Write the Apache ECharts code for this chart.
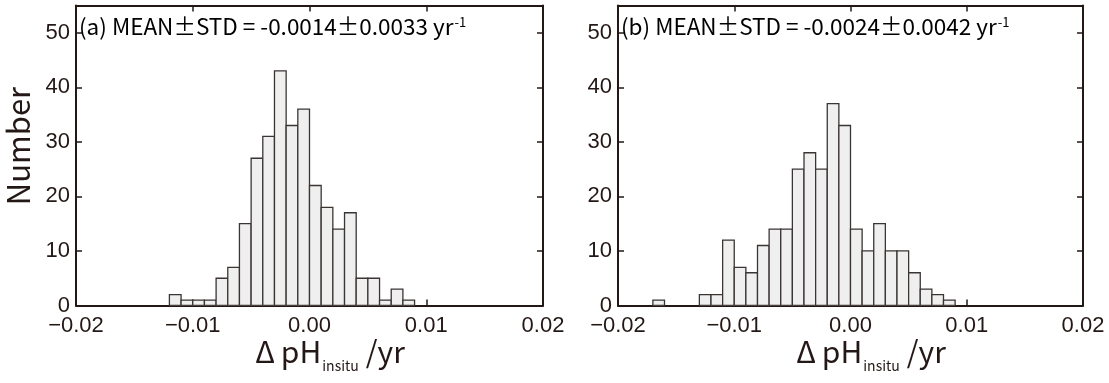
<!DOCTYPE html>
<html>
<head>
<meta charset="utf-8">
<script src="https://cdn.jsdelivr.net/npm/echarts@6/dist/echarts.min.js"></script>
<style>
html,body{margin:0;padding:0;background:#fff;}
#chart{width:1109px;height:383px;}
</style>
</head>
<body>
<div id="chart"></div>
<script>
// ---- data ----
const BIN_WIDTH = 0.001;
const binLeftA = [-0.012,-0.011,-0.010,-0.009,-0.008,-0.007,-0.006,-0.005,-0.004,-0.003,-0.002,-0.001,0.000,0.001,0.002,0.003,0.004,0.005,0.006,0.007,0.008];
const countsA  = [2,1,1,1,5,7,15,27,31,43,33,36,22,18,14,17,5,5,1,3,1];
const binLeftB = [-0.017,-0.013,-0.012,-0.011,-0.010,-0.009,-0.008,-0.007,-0.006,-0.005,-0.004,-0.003,-0.002,-0.001,0.000,0.001,0.002,0.003,0.004,0.005,0.006,0.007,0.008];
const countsB  = [1,2,2,12,7,6,11,14,14,25,28,25,37,33,14,10,15,10,10,6,3,2,1];
const xTicks = [-0.02,-0.01,0.00,0.01,0.02];
const yTicks = [0,10,20,30,40,50];
const titleA = '(a) MEAN\u00B1STD = -0.0014\u00B10.0033 yr';
const titleB = '(b) MEAN\u00B1STD = -0.0024\u00B10.0042 yr';
const titleSup = '-1';
const xNameParts = ['\u0394\u2009pH', 'insitu', '\u2009/yr'];
const yName = 'Number';

// ---- styling ----
const INK = '#231815';
const TICK_FONT = 'Liberation Sans';
const TXT_FONT = 'Noto Sans CJK JP';

function histData(lefts, counts){
  return lefts.map((l,i)=>[l, l+BIN_WIDTH, counts[i]]);
}
function renderHist(params, api){
  const p0 = api.coord([api.value(0), api.value(2)]);
  const p1 = api.coord([api.value(1), 0]);
  return {
    type:'rect',
    shape:{x:p0[0], y:p0[1], width:p1[0]-p0[0], height:p1[1]-p0[1]},
    style:{fill:'#efefef', stroke:'#3a3533', lineWidth:1.3}
  };
}
function fmtX(v){
  const s = Math.abs(v).toFixed(2);
  return (v < -1e-9 ? '\u2212' : '') + s;
}
const grids = [
  {left:76, top:5.5, width:467, height:300},
  {left:618, top:5.5, width:465, height:300}
];
const xAxes = [], yAxes = [];
grids.forEach((g,gi)=>{
  ['bottom','top'].forEach(pos=>{
    xAxes.push({
      type:'value', gridIndex:gi, position:pos,
      min:xTicks[0], max:xTicks[xTicks.length-1], interval:0.01,
      axisLine:{show:true, onZero:false, lineStyle:{color:INK, width:2}},
      axisTick:{show:true, inside:true, length:6, lineStyle:{color:INK, width:1.5}},
      axisLabel:{show:pos==='bottom', margin:9, color:INK, fontFamily:TICK_FONT, fontSize:22, formatter:fmtX, showMinLabel:true, showMaxLabel:true},
      splitLine:{show:false}
    });
  });
  ['left','right'].forEach(pos=>{
    yAxes.push({
      type:'value', gridIndex:gi, position:pos,
      min:0, max:55, interval:10,
      axisLine:{show:true, onZero:false, lineStyle:{color:INK, width:2}},
      axisTick:{show:true, inside:true, length:6, lineStyle:{color:INK, width:1.5}},
      axisLabel:{show:pos==='left', margin:6, color:INK, fontFamily:TICK_FONT, fontSize:22,
        formatter:function(v){ return yTicks.indexOf(v) >= 0 ? String(v) : ''; }},
      splitLine:{show:false}
    });
  });
});

function titleText(t, x){
  return {
    type:'text', left:x, top:8, z:100,
    style:{
      text:'{m|' + t + '}{s|' + titleSup + '}',
      rich:{
        m:{fontFamily:TXT_FONT, fontSize:22.5, color:INK, lineHeight:30, verticalAlign:'bottom'},
        s:{fontFamily:TXT_FONT, fontSize:13, color:INK, lineHeight:14, verticalAlign:'top', padding:[8,0,0,1]}
      }
    }
  };
}

const measureCtx = document.createElement('canvas').getContext('2d');
function textWidth(str, size){
  measureCtx.font = size + 'px "' + TXT_FONT + '"';
  return measureCtx.measureText(str).width;
}
const MAIN_SIZE = 30, SUB_SIZE = 14;
function xTitle(cx){
  const w0 = textWidth(xNameParts[0], MAIN_SIZE);
  const w1 = textWidth(xNameParts[1], SUB_SIZE) + 2;
  const w2 = textWidth(xNameParts[2], MAIN_SIZE);
  const x0 = cx - (w0 + w1 + w2) / 2;
  const mk = (str, x, y, size) => ({
    type:'text', x:x, y:y, z:100,
    style:{text:str, fontFamily:TXT_FONT, fontSize:size, fill:INK, align:'left', verticalAlign:'middle'}
  });
  return [
    mk(xNameParts[0], x0, 352, MAIN_SIZE),
    mk(xNameParts[1], x0 + w0 + 1, 366, SUB_SIZE),
    mk(xNameParts[2], x0 + w0 + w1, 352, MAIN_SIZE)
  ];
}

const chart = echarts.init(document.getElementById('chart'), null, {renderer:'canvas'});
chart.setOption({
  backgroundColor:'#ffffff',
  animation:false,
  grid:grids.map(g=>Object.assign({containLabel:false}, g)),
  xAxis:xAxes,
  yAxis:yAxes,
  series:[
    {type:'custom', xAxisIndex:0, yAxisIndex:0, renderItem:renderHist, data:histData(binLeftA, countsA), encode:{x:[0,1], y:2}, clip:true},
    {type:'custom', xAxisIndex:2, yAxisIndex:2, renderItem:renderHist, data:histData(binLeftB, countsB), encode:{x:[0,1], y:2}, clip:true}
  ],
  graphic:[
    titleText(titleA, 79),
    titleText(titleB, 621),
    ...xTitle(330),
    ...xTitle(871),
    {type:'text', x:18, y:146, rotation:Math.PI/2, z:100,
     style:{text:yName, fontFamily:TXT_FONT, fontSize:31, fill:INK, align:'center', verticalAlign:'middle'}}
  ]
});
</script>
</body>
</html>
